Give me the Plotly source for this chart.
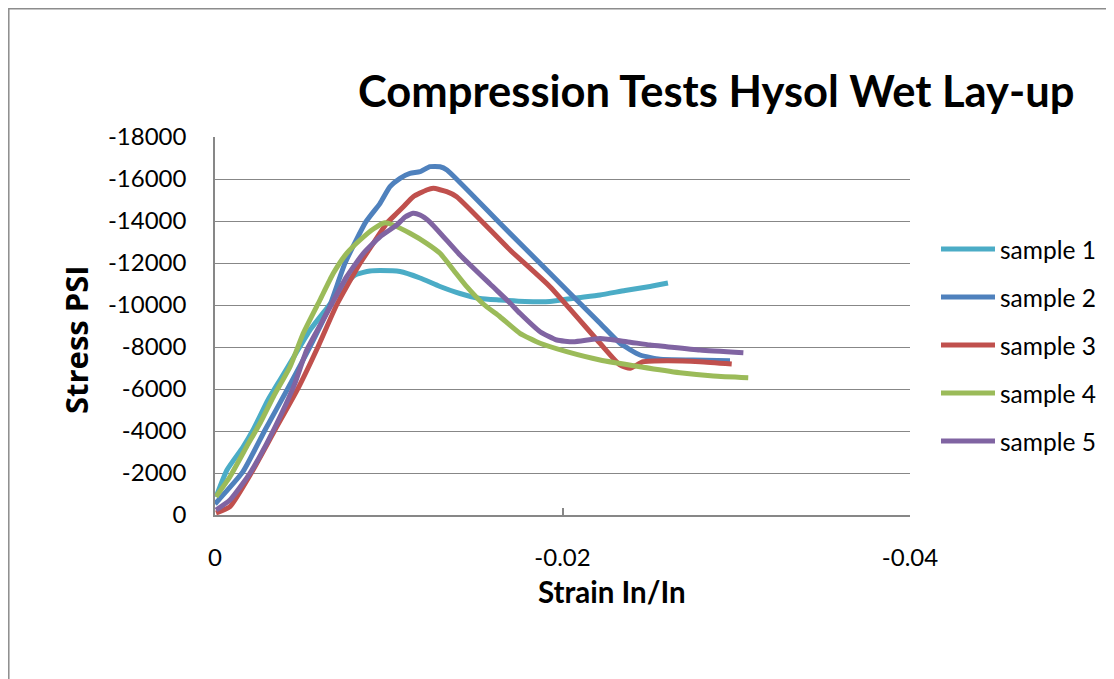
import plotly.graph_objects as go

# ---------------- data ----------------
s1_strain = [-0.00006, -0.00069, -0.00161, -0.00219, -0.00305, -0.00374, -0.00460, -0.00547,
             -0.00645, -0.00748, -0.00806, -0.00892, -0.00950, -0.01065, -0.01180, -0.01295,
             -0.01410, -0.01525, -0.01640, -0.01784, -0.01928, -0.02072, -0.02216, -0.02360,
             -0.02504, -0.02607]
s1_stress = [-857, -2143, -3238, -4048, -5476, -6429, -7619, -8810,
             -9857, -10952, -11429, -11619, -11643, -11595, -11286, -10881,
             -10548, -10310, -10238, -10167, -10167, -10333, -10476, -10690,
             -10881, -11048]

s2_strain = [0.0, -0.00161, -0.00288, -0.00420, -0.00547, -0.00662, -0.00748, -0.00869,
             -0.00950, -0.01007, -0.01065, -0.01122, -0.01180, -0.01237, -0.01295, -0.01335,
             -0.01640, -0.01928, -0.02216, -0.02331, -0.02446, -0.02561, -0.02751, -0.02964]
s2_stress = [-524, -2062, -4048, -6033, -8014, -10000, -11986, -13967,
             -14843, -15633, -16033, -16271, -16348, -16586, -16586, -16429,
             -13890, -11510, -9129, -8176, -7619, -7414, -7381, -7348]

s3_strain = [-0.00006, -0.00086, -0.00213, -0.00345, -0.00478, -0.00593, -0.00700, -0.00835,
             -0.00911, -0.00988, -0.01046, -0.01084, -0.01141, -0.01218, -0.01256, -0.01334,
             -0.01391, -0.01698, -0.01928, -0.02216, -0.02331, -0.02389, -0.02465, -0.02600,
             -0.02791, -0.02974]
s3_stress = [-95, -395, -2062, -4048, -6033, -8014, -10000, -11986,
             -12938, -13890, -14367, -14681, -15157, -15476, -15557, -15395,
             -15157, -12619, -10871, -8176, -7143, -6986, -7300, -7348,
             -7300, -7190]

s4_strain = [-0.00006, -0.00086, -0.00182, -0.00259, -0.00336, -0.00432, -0.00508, -0.00604,
             -0.00681, -0.00758, -0.00835, -0.00911, -0.00978, -0.01026, -0.01122, -0.01218,
             -0.01295, -0.01372, -0.01449, -0.01544, -0.01640, -0.01755, -0.01871, -0.02024,
             -0.02216, -0.02446, -0.02676, -0.02868, -0.03069]
s4_stress = [-871, -1824, -3252, -4367, -5633, -7062, -8652, -10238,
             -11510, -12462, -13095, -13619, -13919, -13810, -13414, -12938,
             -12462, -11667, -10871, -10048, -9443, -8652, -8176, -7776,
             -7381, -7062, -6776, -6619, -6538]

s5_strain = [-0.00006, -0.00086, -0.00201, -0.00298, -0.00384, -0.00460, -0.00528, -0.00643,
             -0.00758, -0.00854, -0.00950, -0.01046, -0.01094, -0.01140, -0.01180, -0.01237,
             -0.01410, -0.01583, -0.01698, -0.01755, -0.01871, -0.01967, -0.02062, -0.02216,
             -0.02370, -0.02504, -0.02600, -0.02791, -0.03041]
s5_stress = [-238, -714, -1986, -3414, -4843, -6271, -7857, -9605,
             -11348, -12462, -13252, -13810, -14190, -14367, -14286, -13952,
             -12381, -11000, -10095, -9605, -8729, -8333, -8252, -8405,
             -8252, -8095, -8014, -7857, -7729]

series_names = ["sample 1", "sample 2", "sample 3", "sample 4", "sample 5"]
series_colors = ["#4BACC6", "#4F81BD", "#C0504D", "#9BBB59", "#8064A2"]

x_tick_vals = [0, -0.02, -0.04]
x_tick_text = ["0", "-0.02", "-0.04"]
y_tick_vals = [0, -2000, -4000, -6000, -8000, -10000, -12000, -14000, -16000, -18000]
y_tick_text = ["0", "-2000", "-4000", "-6000", "-8000", "-10000", "-12000", "-14000", "-16000", "-18000"]

title_text = "Compression Tests Hysol Wet Lay-up"
x_title = "Strain In/In"
y_title = "Stress PSI"

# ---------------- figure ----------------
OFF = 8  # page body margin
W, H = 1114 - OFF, 679 - OFF
L, R, T, B = 215, 910, 137, 515  # plot area in window pixels

def px(x):
    return (x - L) / (R - L)

def py(y):
    return (B - y) / (B - T)

fig = go.Figure()
xs = [s1_strain, s2_strain, s3_strain, s4_strain, s5_strain]
ys = [s1_stress, s2_stress, s3_stress, s4_stress, s5_stress]
for name, col, x, y in zip(series_names, series_colors, xs, ys):
    fig.add_trace(go.Scatter(x=x, y=y, mode="lines", name=name,
                             line=dict(color=col, width=5, shape="spline", smoothing=0.5),
                             showlegend=False))

font_main = "Lato, 'Open Sans', sans-serif"
grid_col = "#878787"

fig.update_layout(
    width=W, height=H,
    margin=dict(l=L - OFF, r=(W + OFF) - R, t=T - OFF, b=(H + OFF) - B, pad=0),
    paper_bgcolor="white", plot_bgcolor="white",
    font=dict(family=font_main, color="black"),
    xaxis=dict(range=[0, -0.04], tickvals=x_tick_vals, ticktext=x_tick_text,
               showgrid=False, zeroline=False, showline=True, linecolor=grid_col, linewidth=1.5,
               ticks="inside", ticklen=7, tickcolor=grid_col, tickwidth=1.5,
               tickfont=dict(size=24, family=font_main, color="black"),
               ticklabelstandoff=20),
    yaxis=dict(range=[0, -18000], tickvals=y_tick_vals, ticktext=y_tick_text,
               showgrid=True, gridcolor=grid_col, gridwidth=1.3, zeroline=False,
               showline=True, linecolor=grid_col, linewidth=1.5, ticks="",
               tickfont=dict(size=24, family=font_main, color="black"),
               ticklabelstandoff=22),
)

shapes = [dict(type="rect", xref="paper", yref="paper",
               x0=px(8.8), x1=px(1130), y0=py(700), y1=py(8.8),
               line=dict(color="#8c8c8c", width=1.5), fillcolor="rgba(0,0,0,0)", layer="below")]
annotations = [
    dict(text="<b>" + title_text + "</b>", xref="paper", yref="paper", x=px(716), y=py(90),
         xanchor="center", yanchor="middle", showarrow=False,
         font=dict(size=43.5, family=font_main, color="black")),
    dict(text="<b>" + x_title + "</b>", xref="paper", yref="paper", x=px(612), y=py(591),
         xanchor="center", yanchor="middle", showarrow=False,
         font=dict(size=29.5, family=font_main, color="black")),
    dict(text="<b>" + y_title + "</b>", xref="paper", yref="paper", x=px(76), y=py(340),
         xanchor="center", yanchor="middle", showarrow=False, textangle=-90,
         font=dict(size=31, family="'Open Sans', sans-serif", color="black")),
]
leg_y = [249, 297, 345, 393, 441]
for name, col, yy in zip(series_names, series_colors, leg_y):
    shapes.append(dict(type="line", xref="paper", yref="paper", x0=px(941), x1=px(995),
                       y0=py(yy), y1=py(yy), line=dict(color=col, width=5)))
    annotations.append(dict(text=name, xref="paper", yref="paper", x=px(998), y=py(yy),
                            xanchor="left", yanchor="middle", showarrow=False,
                            font=dict(size=24.5, family=font_main, color="black")))
fig.update_layout(shapes=shapes, annotations=annotations)

fig.write_html("out.html")
